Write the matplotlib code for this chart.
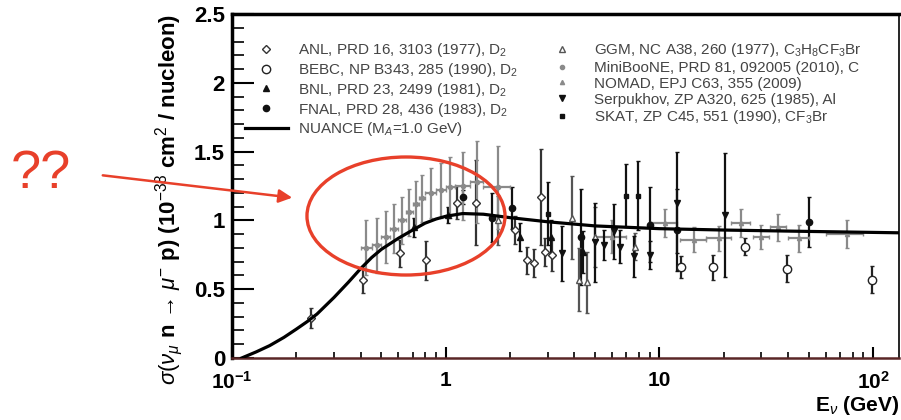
import matplotlib
matplotlib.use("Agg")
import matplotlib.pyplot as plt
from matplotlib.patches import Ellipse, FancyArrowPatch

plt.rcParams['font.family'] = ['Liberation Sans', 'DejaVu Sans']
plt.rcParams['mathtext.fontset'] = 'custom'
plt.rcParams['mathtext.rm'] = 'Liberation Sans'
plt.rcParams['mathtext.it'] = 'Liberation Sans:italic'
plt.rcParams['mathtext.bf'] = 'Liberation Sans:bold'

# NUANCE prediction (M_A = 1.0 GeV)
nuance_E = [0.111, 0.13, 0.15, 0.175, 0.2, 0.225, 0.25, 0.3, 0.35, 0.4, 0.45, 0.5, 0.6, 0.7,
            0.8, 0.9, 1.0, 1.2, 1.5, 2.0, 3.0, 5.0, 10.0, 20.0, 50.0, 132.0]
nuance_xs = [0.0, 0.045, 0.09, 0.15, 0.21, 0.265, 0.32, 0.44, 0.55, 0.65, 0.73, 0.79, 0.87, 0.93,
             0.98, 1.01, 1.03, 1.05, 1.045, 1.02, 0.99, 0.96, 0.94, 0.93, 0.92, 0.91]

# datos medidos: energia (GeV), seccion eficaz, error
anl_E = [0.235, 0.41, 0.61, 0.81, 1.13, 1.39, 2.10, 2.40, 2.60, 2.80, 2.90, 3.15]
anl_xs = [0.29, 0.57, 0.76, 0.71, 1.13, 1.13, 0.93, 0.71, 0.69, 1.17, 0.77, 0.75]
anl_err = [0.07, 0.10, 0.10, 0.14, 0.12, 0.31, 0.10, 0.10, 0.10, 0.35, 0.10, 0.12]

bebc_E = [12.6, 17.8, 25.2, 39.6, 99.0]
bebc_xs = [0.66, 0.66, 0.81, 0.65, 0.57]
bebc_err = [0.08, 0.09, 0.06, 0.10, 0.10]

bnl_E = [0.71, 1.02, 2.22, 3.10, 4.40]
bnl_xs = [0.95, 1.04, 0.88, 0.88, 0.77]
bnl_err = [0.07, 0.06, 0.10, 0.12, 0.15]

fnal_E = [1.20, 1.64, 2.04, 4.30, 9.0, 12.1, 50.0]
fnal_xs = [1.17, 1.02, 1.09, 0.88, 0.97, 0.93, 0.99]
fnal_err = [0.05, 0.18, 0.15, 0.35, 0.27, 0.30, 0.18]

ggm_E = [1.75, 3.9, 4.2, 4.6, 5.0, 7.7]
ggm_xs = [1.00, 1.02, 0.57, 0.55, 0.88, 0.81]
ggm_err = [0.18, 0.30, 0.23, 0.22, 0.22, 0.10]

mb_E = [0.425, 0.475, 0.525, 0.575, 0.625, 0.675, 0.725, 0.775, 0.85, 0.95, 1.05, 1.2, 1.4, 1.75]
mb_xs = [0.80, 0.82, 0.88, 0.94, 1.00, 1.06, 1.12, 1.16, 1.20, 1.22, 1.24, 1.25, 1.28, 1.24]
mb_err = [0.20, 0.20, 0.19, 0.18, 0.17, 0.17, 0.17, 0.17, 0.18, 0.20, 0.22, 0.25, 0.30, 0.30]
mb_bin = [0.025, 0.025, 0.025, 0.025, 0.025, 0.025, 0.025, 0.025, 0.05, 0.05, 0.05, 0.1, 0.1, 0.25]

nomad_E = [6.0, 10.6, 14.5, 19.0, 24.0, 30.0, 36.0, 45.0, 75.0]
nomad_xs = [0.88, 0.98, 0.86, 0.87, 0.98, 0.88, 0.95, 0.87, 0.90]
nomad_err = [0.12, 0.10, 0.09, 0.09, 0.10, 0.09, 0.10, 0.10, 0.10]
nomad_bin = [1.0, 1.5, 2.0, 2.5, 2.5, 2.5, 3.0, 5.0, 15.0]

serp_E = [3.5, 5.0, 5.5, 6.1, 6.5, 7.6, 9.0, 12.1, 20.3]
serp_xs = [0.76, 0.84, 0.82, 0.92, 0.81, 0.74, 0.75, 1.13, 1.04]
serp_err = [0.20, 0.29, 0.11, 0.20, 0.12, 0.15, 0.10, 0.37, 0.45]

skat_E = [3.0, 7.0, 7.9]
skat_xs = [1.05, 1.18, 1.18]
skat_err = [0.23, 0.23, 0.25]

fig = plt.figure(figsize=(9.01, 4.2), dpi=100)
ax = fig.add_axes([0.2575, 0.1476, 0.7403, 0.819])

def plot_set(E, xs, err, marker, color, face, size, label, xerr=None):
    ax.errorbar(E, xs, yerr=err, xerr=xerr, fmt='none', ecolor=color,
                elinewidth=1.6, capsize=1.5, zorder=2)
    ax.plot(E, xs, ls='none', marker=marker, ms=size, mfc=face, mec=color,
            mew=1.0, label=label, zorder=3)

ax.plot(nuance_E, nuance_xs, color='black', lw=2.3, zorder=4,
        label='NUANCE (M$_A$=1.0 GeV)')

plot_set(anl_E, anl_xs, anl_err, 'D', '#333333', 'white', 4, 'ANL, PRD 16, 3103 (1977), D$_2$')
plot_set(bebc_E, bebc_xs, bebc_err, 'o', '#222222', 'white', 6, 'BEBC, NP B343, 285 (1990), D$_2$')
plot_set(bnl_E, bnl_xs, bnl_err, '^', '#111111', '#111111', 4.5, 'BNL, PRD 23, 2499 (1981), D$_2$')
plot_set(fnal_E, fnal_xs, fnal_err, 'o', '#111111', '#111111', 4.5, 'FNAL, PRD 28, 436 (1983), D$_2$')
plot_set(ggm_E, ggm_xs, ggm_err, '^', '#555555', 'white', 4.5, 'GGM, NC A38, 260 (1977), C$_3$H$_8$CF$_3$Br')
plot_set(mb_E, mb_xs, mb_err, 'o', '#8a8a8a', '#8a8a8a', 3, 'MiniBooNE, PRD 81, 092005 (2010), C', xerr=mb_bin)
plot_set(nomad_E, nomad_xs, nomad_err, '^', '#8a8a8a', '#8a8a8a', 3, 'NOMAD, EPJ C63, 355 (2009)', xerr=nomad_bin)
plot_set(serp_E, serp_xs, serp_err, 'v', '#111111', '#111111', 4.5, 'Serpukhov, ZP A320, 625 (1985), Al')
plot_set(skat_E, skat_xs, skat_err, 's', '#111111', '#111111', 3.5, 'SKAT, ZP C45, 551 (1990), CF$_3$Br')

ax.set_xscale('log')
ax.set_xlim(0.1, 132)
ax.set_ylim(0, 2.5)

# ticks estilo ROOT
ax.set_yticks([0, 0.5, 1, 1.5, 2, 2.5])
ax.set_yticklabels(['0', '0.5', '1', '1.5', '2', '2.5'])
ax.set_yticks([i * 0.1 for i in range(26)], minor=True)
ax.set_xticks([0.1, 1, 10, 100])
ax.set_xticklabels([r'$\mathbf{10^{-1}}$', '1', '10', r'$\mathbf{10^{2}}$'])
ax.tick_params(axis='y', which='major', direction='in', length=16, width=1.5,
               labelsize=16, pad=5)
ax.tick_params(axis='y', which='minor', direction='in', length=8.5, width=1.2)
ax.tick_params(axis='x', which='major', direction='in', length=8, width=1.5,
               labelsize=15, pad=9)
ax.tick_params(axis='x', which='minor', direction='in', length=4, width=1.2)
for lab in ax.get_xticklabels() + ax.get_yticklabels():
    lab.set_fontweight('bold')

ax.spines['left'].set_linewidth(2.5)
ax.spines['top'].set_linewidth(2.5)
ax.spines['right'].set_linewidth(1.2)
ax.spines['bottom'].set_linewidth(1.8)
ax.spines['bottom'].set_color('#5a2626')

ax.set_ylabel(r'$\sigma(\nu_{\mu}$ n → $\mu^{-}$ p) (10$^{-38}$ cm$^2$ / nucleon)',
              fontsize=16, fontweight='bold')
ax.yaxis.set_label_coords(-0.07, 0.462)
ax.set_xlabel(r'E$_{\nu}$ (GeV)', fontsize=15, fontweight='bold', loc='right')
ax.xaxis.set_label_coords(1.0, -0.105)

# leyenda en dos columnas
handles, labels = ax.get_legend_handles_labels()
order = [1, 2, 3, 4, 0, 5, 6, 7, 8, 9]
ax.legend([handles[i] for i in order], [labels[i] for i in order], ncol=2,
          loc='upper left', bbox_to_anchor=(0.272, 0.902), bbox_transform=fig.transFigure,
          frameon=False, fontsize=11, handlelength=2.8, handletextpad=0.65,
          labelspacing=0.12, columnspacing=1.5, borderpad=0, borderaxespad=0,
          labelcolor='#444444')

# anotacion en rojo
fig.text(0.012, 0.553, '??', color='#e8402a', fontsize=39)
fig.add_artist(FancyArrowPatch((0.111, 0.5833), (0.3274, 0.5286), transform=fig.transFigure,
                               arrowstyle='-|>', mutation_scale=20, color='#e8402a', lw=1.8))
fig.add_artist(Ellipse((0.4506, 0.4857), 0.2198, 0.281, transform=fig.transFigure,
                       fill=False, edgecolor='#e8402a', lw=2.4))

fig.savefig('out.png', dpi=100)
